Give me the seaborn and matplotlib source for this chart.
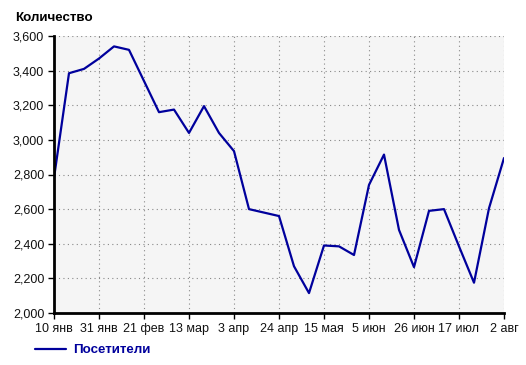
import matplotlib
matplotlib.use("Agg")
import matplotlib.pyplot as plt
import seaborn as sns
import pandas as pd

values = [2780, 3385, 3410, 3470, 3540, 3520, 3340, 3160, 3175, 3040,
          3195, 3040, 2935, 2600, 2580, 2560, 2270, 2115, 2390, 2385,
          2335, 2740, 2915, 2480, 2265, 2590, 2600, 2385, 2175, 2605, 2895]
tick_labels = ["10 янв", "31 янв", "21 фев", "13 мар", "3 апр", "24 апр",
               "15 мая", "5 июн", "26 июн", "17 июл", "2 авг"]
y_ticks = [2000, 2200, 2400, 2600, 2800, 3000, 3200, 3400, 3600]
series_name = "Посетители"
y_title = "Количество"

df = pd.DataFrame({"week": list(range(len(values))), "value": values})

sns.set_theme(style="white")
plt.rcParams["font.family"] = ["Liberation Sans", "DejaVu Sans"]

fig = plt.figure(figsize=(5.26, 3.65), dpi=100)
ax = fig.add_axes([54 / 526, 1 - 313 / 365, (504 - 54) / 526, (313 - 36) / 365])
ax.set_facecolor("#f5f5f5")

color = "#00009c"
sns.lineplot(data=df, x="week", y="value", ax=ax, color=color, linewidth=1.6)

ax.set_xlim(0, len(values) - 1)
ax.set_ylim(2000, 3600)
ax.set_xticks(list(range(0, len(values), 3)))
ax.set_xticklabels(tick_labels)
ax.set_yticks(y_ticks)
ax.set_yticklabels([f"{v:,}" for v in y_ticks])
ax.set_xlabel("")
ax.set_ylabel("")

ax.grid(True, color="#888888", linestyle=(0, (1, 3)), linewidth=0.8)
for side in ["top", "right"]:
    ax.spines[side].set_visible(False)
for side in ["left", "bottom"]:
    ax.spines[side].set_color("black")
    ax.spines[side].set_linewidth(2)
ax.tick_params(axis="both", which="major", direction="out", length=4, width=1,
               color="black", labelsize=9, labelcolor="#111111", pad=3,
               bottom=True, left=True)

fig.text(15 / 526, 1 - 18 / 365, y_title, fontsize=9.6, fontweight="bold",
         ha="left", va="center", color="black")

# legend
fig.lines.append(plt.Line2D([35 / 526, 66 / 526], [1 - 349 / 365, 1 - 349 / 365],
                            transform=fig.transFigure, color=color, linewidth=1.6))
fig.text(73 / 526, 1 - 350 / 365, series_name, fontsize=9.6, fontweight="bold",
         ha="left", va="center", color=color)

fig.savefig("out.png", dpi=100)
